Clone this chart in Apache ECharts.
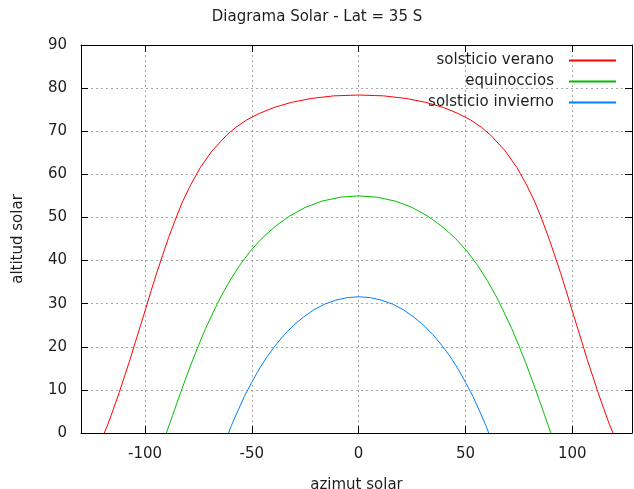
<!DOCTYPE html>
<html>
<head>
<meta charset="utf-8">
<script src="https://cdn.jsdelivr.net/npm/echarts@6/dist/echarts.min.js"></script>
<style>
html,body{margin:0;padding:0;background:#fff;}
#chart{width:634px;height:489px;}
</style>
</head>
<body>
<div id="chart"></div>
<script>
// ---- data ----
var titleText = 'Diagrama Solar - Lat = 35 S';
var xName = 'azimut solar';
var yName = 'altitud solar';
var seriesNames = ['solsticio verano', 'equinoccios', 'solsticio invierno'];
var xTicks = [-100, -50, 0, 50, 100];
var yTicks = [0, 10, 20, 30, 40, 50, 60, 70, 80, 90];

var veranoAz = [-119.1, -117.5, -114.8, -112.1, -109.6, -107.0, -104.6, -102.1, -99.6, -97.1, -94.5, -91.8, -89.0, -85.9, -82.6, -78.7, -74.2, -68.7, -61.8, -57.5, -52.5, -46.6, -39.7, -31.4, -22.2, -11.7, 0,
                11.7, 22.2, 31.4, 39.7, 46.6, 52.5, 57.5, 61.8, 68.7, 74.2, 78.7, 82.6, 85.9, 89.0, 91.8, 94.5, 97.1, 99.6, 102.1, 104.6, 107.0, 109.6, 112.1, 114.8, 117.5, 119.1];
var veranoAlt = [0, 1.9, 5.6, 9.4, 13.2, 17.1, 21.0, 25.0, 29.0, 33.1, 37.2, 41.2, 45.3, 49.4, 53.5, 57.5, 61.5, 65.4, 69.1, 70.9, 72.6, 74.1, 75.5, 76.7, 77.6, 78.2, 78.4,
                 78.2, 77.6, 76.7, 75.5, 74.1, 72.6, 70.9, 69.1, 65.4, 61.5, 57.5, 53.5, 49.4, 45.3, 41.2, 37.2, 33.1, 29.0, 25.0, 21.0, 17.1, 13.2, 9.4, 5.6, 1.9, 0];

var equiAz = [-90, -87.1, -84.2, -81.3, -78.2, -75.0, -71.7, -68.1, -64.3, -60.2, -55.7, -50.7, -45.2, -39.1, -32.4, -25.1, -17.1, -8.5, 0,
              8.5, 17.1, 25.1, 32.4, 39.1, 45.2, 50.7, 55.7, 60.2, 64.3, 68.1, 71.7, 75.0, 78.2, 81.3, 84.2, 87.1, 90];
var equiAlt = [0, 4.1, 8.2, 12.2, 16.3, 20.3, 24.2, 28.0, 31.8, 35.4, 38.9, 42.2, 45.2, 47.9, 50.3, 52.3, 53.8, 54.7, 55.0,
               54.7, 53.8, 52.3, 50.3, 47.9, 45.2, 42.2, 38.9, 35.4, 31.8, 28.0, 24.2, 20.3, 16.3, 12.2, 8.2, 4.1, 0];

var inviernoAz = [-60.9, -59.6, -56.6, -53.5, -50.1, -46.6, -42.9, -39.0, -34.8, -30.4, -25.8, -20.9, -15.9, -10.7, -5.4, 0,
                  5.4, 10.7, 15.9, 20.9, 25.8, 30.4, 34.8, 39.0, 42.9, 46.6, 50.1, 53.5, 56.6, 59.6, 60.9];
var inviernoAlt = [0, 1.7, 5.1, 8.5, 11.7, 14.8, 17.7, 20.3, 22.8, 25.0, 26.9, 28.6, 29.9, 30.8, 31.4, 31.6,
                   31.4, 30.8, 29.9, 28.6, 26.9, 25.0, 22.8, 20.3, 17.7, 14.8, 11.7, 8.5, 5.1, 1.7, 0];

var colors = ['#ff0000', '#00c000', '#0080ff'];

function pairs(xs, ys) { return xs.map(function (x, i) { return [x, ys[i]]; }); }

var FONT = 'DejaVu Sans';
var TXT = '#1e1e1e';
var chart = echarts.init(document.getElementById('chart'), null, {renderer: 'canvas'});

var axisCommon = {
  type: 'value',
  axisLine: {show: true, onZero: false, lineStyle: {color: '#000', width: 1}},
  axisTick: {show: true, inside: true, length: 7, lineStyle: {color: '#000'}},
  splitLine: {show: false}
};

function legendFor(i, top) {
  return {
    right: 18, top: top, orient: 'vertical', align: 'right', padding: 0,
    itemWidth: 47, itemHeight: 2, icon: 'rect',
    data: [{name: seriesNames[i], itemStyle: {color: colors[i]}}],
    textStyle: {fontFamily: FONT, fontSize: 15, color: TXT, padding: [0, 10, 0, 0]}
  };
}

var option = {
  animation: false,
  backgroundColor: '#fff',
  color: colors,
  title: {
    text: titleText, left: 'center', top: 5,
    textStyle: {fontFamily: FONT, fontSize: 15, fontWeight: 'normal', color: TXT}
  },
  legend: [legendFor(0, 53), legendFor(1, 74), legendFor(2, 95)],
  grid: {left: 81, right: 2, top: 45, bottom: 56, show: false, containLabel: false, outerBoundsMode: 'none'},
  xAxis: [
    Object.assign({}, axisCommon, {
      position: 'bottom', min: -130, max: 128,
      name: xName, nameLocation: 'middle', nameGap: 45,
      nameTextStyle: {fontFamily: FONT, fontSize: 15, color: TXT},
      axisTick: {show: true, inside: true, length: 7, customValues: xTicks, lineStyle: {color: '#000'}},
      axisLabel: {customValues: xTicks, margin: 14, fontFamily: FONT, fontSize: 15, color: TXT},
      splitLine: {show: true, lineStyle: {color: '#a8a8a8', type: [2, 3], width: 1}}
    }),
    Object.assign({}, axisCommon, {
      position: 'top', min: -130, max: 128,
      axisTick: {show: true, inside: true, length: 7, customValues: xTicks, lineStyle: {color: '#000'}},
      axisLabel: {show: false}
    })
  ],
  yAxis: [
    Object.assign({}, axisCommon, {
      position: 'left', min: 0, max: 90, interval: 10,
      name: yName, nameLocation: 'middle', nameGap: 55, nameRotate: 90,
      nameTextStyle: {fontFamily: FONT, fontSize: 15, color: TXT},
      axisLabel: {margin: 14, fontFamily: FONT, fontSize: 15, color: TXT},
      splitLine: {show: true, lineStyle: {color: '#a8a8a8', type: [2, 3], width: 1}}
    }),
    Object.assign({}, axisCommon, {
      position: 'right', min: 0, max: 90, interval: 10,
      axisLabel: {show: false}
    })
  ],
  series: [
    {name: seriesNames[0], type: 'line', data: pairs(veranoAz, veranoAlt)},
    {name: seriesNames[1], type: 'line', data: pairs(equiAz, equiAlt)},
    {name: seriesNames[2], type: 'line', data: pairs(inviernoAz, inviernoAlt)}
  ].map(function (s, i) {
    s.symbol = 'none';
    s.smooth = false;
    s.itemStyle = {color: colors[i]};
    s.lineStyle = {color: colors[i], width: 1};
    s.xAxisIndex = 0; s.yAxisIndex = 0;
    return s;
  })
};
chart.setOption(option);
</script>
</body>
</html>
